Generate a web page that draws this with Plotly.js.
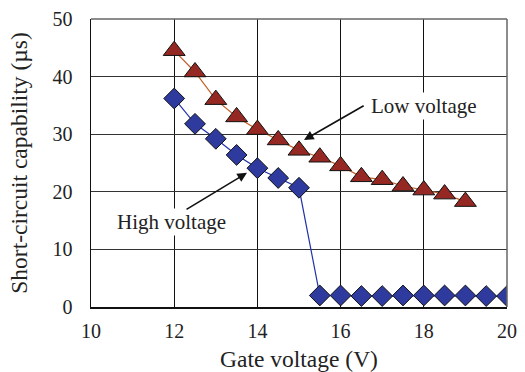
<!DOCTYPE html>
<html><head><meta charset="utf-8">
<script src="https://cdn.plot.ly/plotly-3.0.1.min.js"></script>
<style>body{margin:0;padding:0;background:#fff}#chart{width:525px;height:372px}</style>
</head><body><div id="chart"></div>
<script>
var lowX = [12,12.5,13,13.5,14,14.5,15,15.5,16,16.5,17,17.5,18,18.5,19];
var lowY = [44.5,40.8,36.0,33.0,30.8,29.0,27.2,26.0,24.5,22.6,22.1,21.0,20.3,19.6,18.3];
var highX = [12,12.5,13,13.5,14,14.5,15,15.5,16,16.5,17,17.5,18,18.5,19,19.5,20];
var highY = [36.2,31.8,29.2,26.4,24.1,22.4,20.7,2.0,2.0,1.9,1.9,2.0,2.0,2.0,2.0,1.9,1.9];
var xTicks = [10,12,14,16,18,20];
var yTicks = [0,10,20,30,40,50];

var FAM = 'Times New Roman, Liberation Serif, serif';
var font = {family:FAM, color:'#222', size:20};
var traces = [
 {x:lowX, y:lowY, mode:'lines+markers', line:{color:'#c0622a', width:1.2},
  marker:{symbol:'triangle-up', size:19, color:'#952822', line:{color:'#111', width:1}}},
 {x:highX, y:highY, mode:'lines+markers', line:{color:'#2233aa', width:1.2},
  marker:{symbol:'diamond', size:16, color:'#2e3a9e', line:{color:'#111', width:1}}}
];
var layout = {
 width:525, height:372, showlegend:false,
 margin:{l:91, r:18, t:19, b:65},
 paper_bgcolor:'#fff', plot_bgcolor:'#fff',
 font:font,
 xaxis:{range:[10,20], tickvals:xTicks, ticktext:xTicks.map(String), showgrid:true, gridcolor:'#111', gridwidth:1.3,
   zeroline:false, showline:true, linecolor:'#111', linewidth:1.5, ticks:'outside', ticklen:5, tickcolor:'rgba(0,0,0,0)',
   tickfont:{size:20, family:FAM, color:'#222'}, fixedrange:true, automargin:false,
   title:{text:'Gate voltage (V)', font:{size:23.5, family:FAM, color:'#222'}, standoff:10}},
 yaxis:{range:[0,50], tickvals:yTicks, ticktext:yTicks.map(String), showgrid:true, gridcolor:'#333', gridwidth:1,
   zeroline:false, showline:true, linecolor:'#111', linewidth:1.5, ticks:'outside', ticklen:13, tickcolor:'rgba(0,0,0,0)',
   tickfont:{size:20, family:FAM, color:'#222'}, fixedrange:true, automargin:false,
   title:{text:'Short-circuit capability (\u00b5s)', font:{size:23.5, family:FAM, color:'#222'}, standoff:18}},
 shapes:[
  {type:'line', xref:'paper', yref:'paper', x0:0, x1:1, y0:1, y1:1, line:{color:'#666', width:1.5}},
  {type:'line', xref:'paper', yref:'paper', x0:1, x1:1, y0:0, y1:1, line:{color:'#666', width:1.5}}
 ],
 annotations:[
  {x:18.0, y:34.9, xref:'x', yref:'y', text:'Low voltage', showarrow:false, bgcolor:'#fff',
   font:{size:21, family:FAM, color:'#222'}},
  {x:11.94, y:14.76, xref:'x', yref:'y', text:'High voltage', showarrow:false, bgcolor:'#fff',
   font:{size:21, family:FAM, color:'#222'}},
  {x:15.12, y:29.0, ax:16.59, ay:35.1, axref:'x', ayref:'y', xref:'x', yref:'y', text:'',
   showarrow:true, arrowhead:2, arrowsize:1.2, arrowwidth:1.6, arrowcolor:'#111'},
  {x:13.75, y:23.3, ax:12.26, ay:16.8, axref:'x', ayref:'y', xref:'x', yref:'y', text:'',
   showarrow:true, arrowhead:2, arrowsize:1.2, arrowwidth:1.6, arrowcolor:'#111'}
 ]
};
Plotly.newPlot('chart', traces, layout, {displayModeBar:false, staticPlot:true});
</script></body></html>
